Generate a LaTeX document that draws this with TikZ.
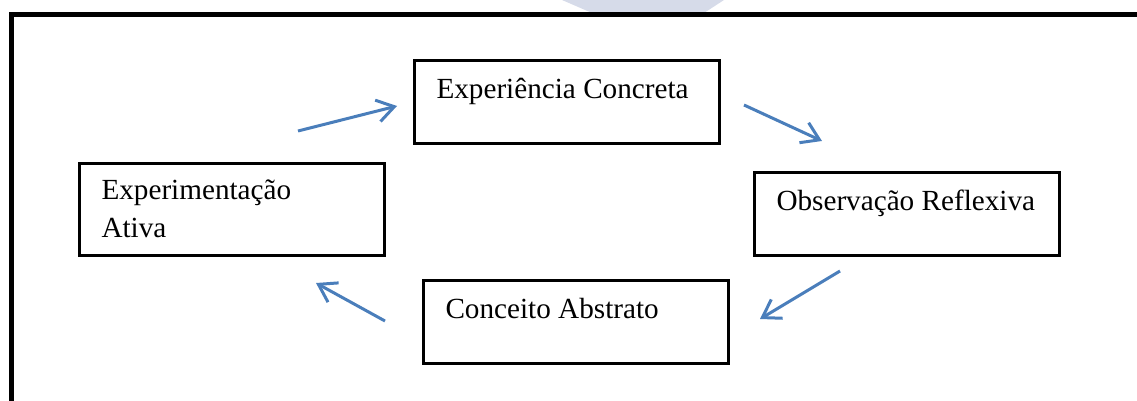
\documentclass[tikz,border=0pt]{standalone}
\usepackage{fontspec}
\setmainfont{Liberation Serif}
\usetikzlibrary{arrows.meta, positioning}

\definecolor{setaazul}{RGB}{74,126,187}
\definecolor{marcadagua}{RGB}{214,219,233}

\newcommand{\etq}[1]{\parbox[t]{130.5pt}{\raggedright #1}}

\begin{document}
\begin{tikzpicture}[x=0.5pt, y=-0.5pt]
    \tikzset{etapa/.style={rectangle, draw=black, line width=1.5pt, inner xsep=11pt, inner ysep=0pt, outer sep=0pt, minimum width=152.5pt, anchor=north west, text height=19pt, text depth=22.5pt, font=\fontsize{14.6pt}{19pt}\selectfont}}
    \tikzset{fluxo/.style={draw=setaazul, line width=1.5pt, -{Straight Barb[length=8.5pt, width=11pt]}}}
    \useasboundingbox (0,0) rectangle (1137,401);
    % marca d'agua
    \fill[marcadagua] (562,0) -- (592,13) -- (704,13) -- (724,0) -- cycle;
    % moldura
    \draw[line width=2.5pt] (11,401) -- (11,15) -- (1137,15);
    \begin{scope}
    \node[etapa] (ec) at (414.5,60.5) {\etq{Experiência Concreta}};
    \node[etapa] (or) at (754.5,172.5) {\etq{Observação Reflexiva}};
    \node[etapa] (ca) at (423.5,280.5) {\etq{Conceito Abstrato}};
    \node[etapa, text height=18.25pt, text depth=27.75pt] (ea) at (79.5,163.5) {\etq{Experimentação\\Ativa}};
    \end{scope}

    \coordinate (ea-ec-a) at (298,131);
    \coordinate (ea-ec-b) at (397,106);
    \coordinate (ec-or-a) at (744,105);
    \coordinate (ec-or-b) at (822,141);
    \coordinate (or-ca-a) at (840,271);
    \coordinate (or-ca-b) at (760,319);
    \coordinate (ca-ea-a) at (385,321);
    \coordinate (ca-ea-b) at (316,283);

    \draw[fluxo] (ea-ec-a) -- (ea-ec-b);
    \draw[fluxo] (ec-or-a) -- (ec-or-b);
    \draw[fluxo] (or-ca-a) -- (or-ca-b);
    \draw[fluxo] (ca-ea-a) -- (ca-ea-b);
\end{tikzpicture}
\end{document}
